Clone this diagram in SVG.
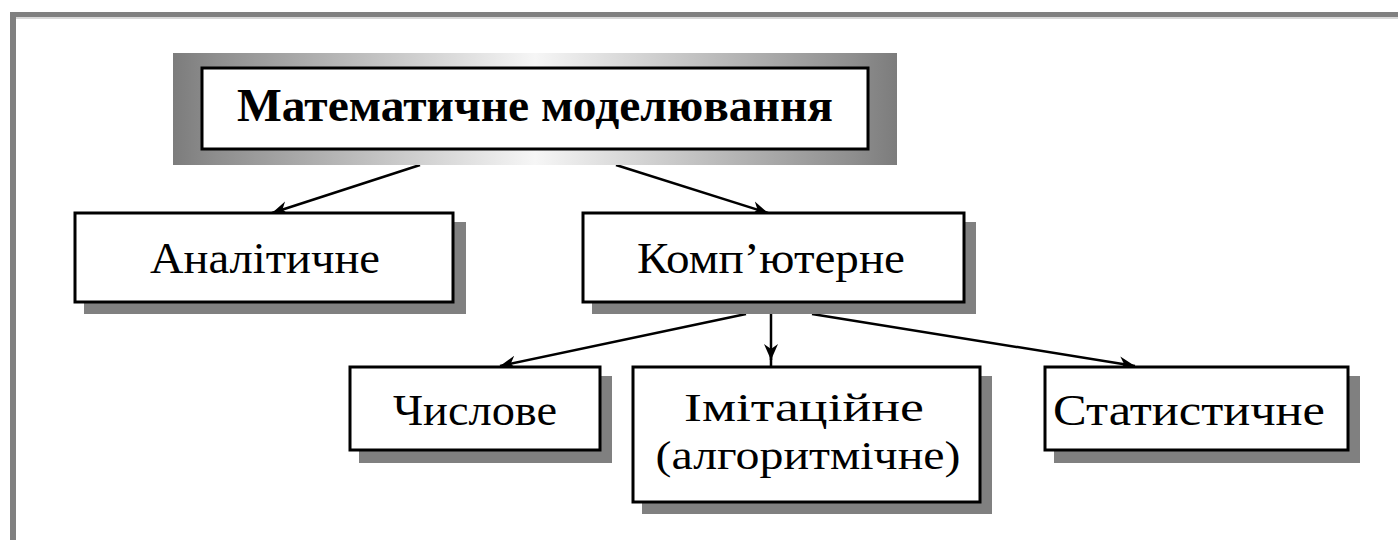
<svg xmlns="http://www.w3.org/2000/svg" width="1398" height="540" viewBox="0 0 1398 540">
<defs>
<linearGradient id="g" x1="0" y1="0" x2="1" y2="0">
<stop offset="0" stop-color="#7c7c7c"/>
<stop offset="0.06" stop-color="#8e8e8e"/>
<stop offset="0.5" stop-color="#f6f6f6"/>
<stop offset="0.94" stop-color="#8e8e8e"/>
<stop offset="1" stop-color="#7c7c7c"/>
</linearGradient>
<marker id="ah" markerWidth="18" markerHeight="16" refX="16" refY="8" orient="auto" markerUnits="userSpaceOnUse">
<path d="M0,1 L16,8 L0,15 L5,8 Z" fill="#000"/>
</marker>
<style>
.box{fill:#fff;stroke:#000;stroke-width:3}
.sh{fill:#808080}
.t{font-family:"Liberation Serif","DejaVu Serif",serif;font-size:44px;fill:#000;text-anchor:middle}
.t2{font-family:"Liberation Serif","DejaVu Serif",serif;font-size:41px;fill:#000;text-anchor:middle}
.tb{font-family:"Liberation Serif","DejaVu Serif",serif;font-size:46px;font-weight:bold;fill:#000;text-anchor:middle}
.c{stroke:#000;stroke-width:2.5;fill:none;marker-end:url(#ah)}
</style>
</defs>
<rect width="1398" height="540" fill="#fff"/>
<g id="frame">
<rect x="10" y="12" width="1388" height="5" fill="#808080"/>
<rect x="10" y="17" width="1388" height="2" fill="#d8d8d8"/>
<rect x="10" y="12" width="6" height="528" fill="#808080"/>
</g>
<g id="connectors">
<line class="c" x1="420" y1="165" x2="272" y2="213"/>
<line class="c" x1="616" y1="165" x2="768" y2="213"/>
<line class="c" x1="746" y1="314" x2="500" y2="366"/>
<line class="c" x1="771" y1="314" x2="771" y2="360"/>
<line x1="771" y1="356" x2="771" y2="367" stroke="#000" stroke-width="2.5"/>
<line class="c" x1="812" y1="314" x2="1135" y2="366"/>
</g>
<g id="n-root">
<rect x="173" y="53" width="724" height="112" fill="url(#g)"/>
<rect class="box" x="202" y="68" width="666" height="81"/>
<text class="tb" x="535" y="121" textLength="596" lengthAdjust="spacingAndGlyphs">Математичне моделювання</text>
</g>
<g id="n-analit">
<rect class="sh" x="84" y="222" width="382" height="92"/>
<rect class="box" x="75" y="213" width="378" height="89"/>
<text class="t" x="265" y="273" textLength="230" lengthAdjust="spacingAndGlyphs">Аналітичне</text>
</g>
<g id="n-komp">
<rect class="sh" x="592" y="222" width="384" height="92"/>
<rect class="box" x="583" y="213" width="381" height="89"/>
<text class="t" x="771" y="273" textLength="268" lengthAdjust="spacingAndGlyphs">Комп’ютерне</text>
</g>
<g id="n-chysl">
<rect class="sh" x="359" y="376" width="253" height="87"/>
<rect class="box" x="350" y="367" width="250" height="83"/>
<text class="t" x="475" y="425" textLength="164" lengthAdjust="spacingAndGlyphs">Числове</text>
</g>
<g id="n-imit">
<rect class="sh" x="642" y="376" width="350" height="138"/>
<rect class="box" x="633" y="367" width="347" height="135"/>
<text class="t2" x="804" y="421" textLength="240" lengthAdjust="spacingAndGlyphs">Імітаційне</text>
<text class="t2" x="808" y="469" textLength="305" lengthAdjust="spacingAndGlyphs">(алгоритмічне)</text>
</g>
<g id="n-stat">
<rect class="sh" x="1054" y="376" width="306" height="87"/>
<rect class="box" x="1045" y="367" width="303" height="83"/>
<text class="t" x="1189" y="425" textLength="272" lengthAdjust="spacingAndGlyphs">Статистичне</text>
</g>
</svg>
